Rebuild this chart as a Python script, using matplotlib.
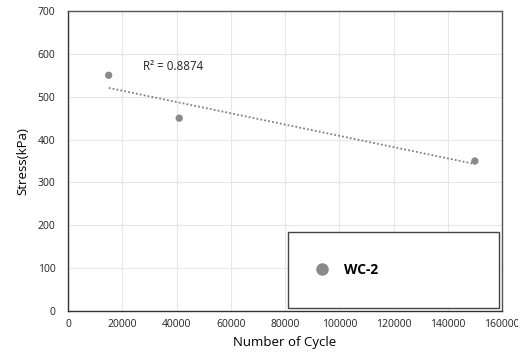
import numpy as np
import matplotlib
matplotlib.use("Agg")
import matplotlib.pyplot as plt
from matplotlib.lines import Line2D
from matplotlib.patches import Rectangle

cycles = [15000, 41000, 150000]
stress = [550, 450, 350]
series_name = "WC-2"
r2_label = "R² = 0.8874"
xticks = [0, 20000, 40000, 60000, 80000, 100000, 120000, 140000, 160000]
yticks = [0, 100, 200, 300, 400, 500, 600, 700]

plt.rcParams['font.family'] = ['Open Sans', 'DejaVu Sans']

fig = plt.figure(figsize=(5.18, 3.55), dpi=100)
L, R, T, B = 68, 502, 11, 311
ax = fig.add_axes([L/518, 1-B/355, (R-L)/518, (B-T)/355])

x = np.array(cycles, dtype=float)
y = np.array(stress, dtype=float)
k, b = np.polyfit(x, y, 1)
xs = np.array([x.min(), x.max()])
ax.plot(xs, k*xs+b, linestyle=(0, (1, 1.2)), color='#808080', lw=1.3, zorder=2)
ax.scatter(x, y, s=28, color='#8a8a8a', zorder=3, edgecolors='none')
ax.text(27500, 562, r2_label, fontsize=8.3, color='#222222')

ax.set_xlim(0, 160000)
ax.set_ylim(0, 700)
ax.set_xticks(xticks)
ax.set_yticks(yticks)
ax.set_xticklabels([str(t) for t in xticks], fontsize=7.5, color='#222222')
ax.set_yticklabels([str(t) for t in yticks], fontsize=7.5, color='#222222')
ax.tick_params(axis='y', length=0, pad=9)
ax.tick_params(axis='x', length=0, pad=6)
ax.grid(True, color='#e6e6e6', lw=0.8)
ax.set_axisbelow(True)
for s in ax.spines.values():
    s.set_color('#555555')
    s.set_linewidth(1.0)
ax.spines['left'].set_color('#333333')
ax.spines['bottom'].set_color('#333333')

ax.set_xlabel("Number of Cycle", fontsize=9.5, labelpad=4)
ax.set_ylabel("Stress(kPa)", fontsize=9.5, labelpad=6)

# legend box
bx0, bx1, by0, by1 = 288, 499, 232, 308
ax.add_patch(Rectangle(((bx0-L)/(R-L), (B-by1)/(B-T)), (bx1-bx0)/(R-L), (by1-by0)/(B-T),
                       transform=ax.transAxes, facecolor='white', edgecolor='#444444',
                       lw=1.0, zorder=5))
handle = Line2D([], [], marker='o', linestyle='none', color='#8a8a8a', markersize=8)
leg = ax.legend([handle], [series_name], loc='center left',
                bbox_to_anchor=((312-L)/(R-L), (B-270)/(B-T)),
                frameon=False, borderaxespad=0, borderpad=0,
                prop={'weight': 'bold', 'size': 10}, handletextpad=0.8,
                handlelength=1.5)
leg.set_zorder(6)

fig.savefig("out.png", dpi=100)
